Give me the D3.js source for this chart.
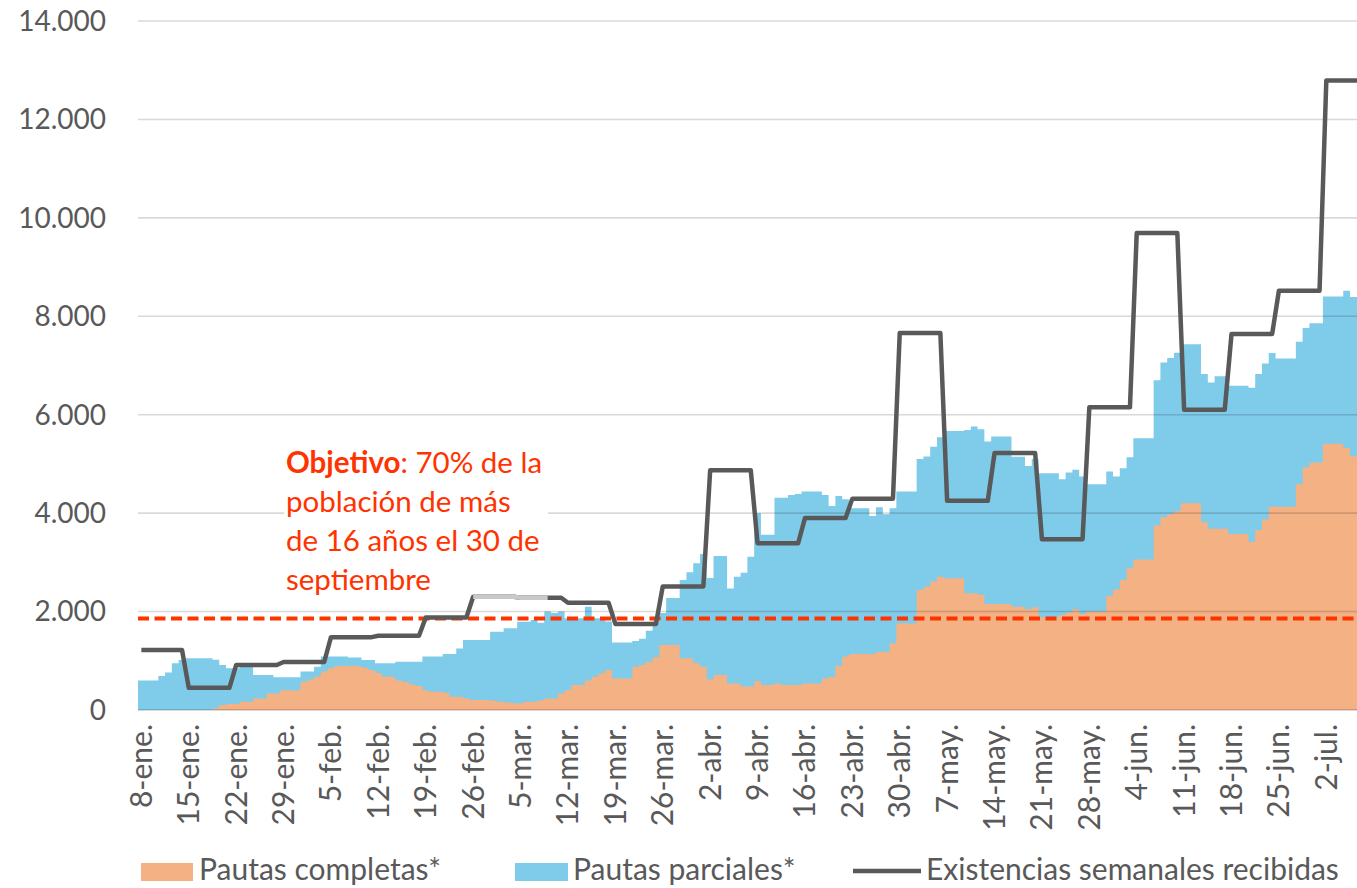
<!DOCTYPE html>
<html><head><meta charset="utf-8">
<script src="https://cdn.jsdelivr.net/npm/d3@7"></script>
<style>
html,body{margin:0;padding:0;background:#fff;}
svg{display:block;font-family:Lato,"Open Sans",sans-serif;}
</style></head><body>
<svg id="chart" width="1357" height="888"></svg>
<script>
// ---------- DATA ----------
// daily categories: 8-ene (index 0) ... 7-jul (index 180)
const days = d3.range(181);
const tickLabels = ["8-ene.","15-ene.","22-ene.","29-ene.","5-feb.","12-feb.","19-feb.","26-feb.",
  "5-mar.","12-mar.","19-mar.","26-mar.","2-abr.","9-abr.","16-abr.","23-abr.","30-abr.",
  "7-may.","14-may.","21-may.","28-may.","4-jun.","11-jun.","18-jun.","25-jun.","2-jul."];
const completas = [
  0,0,0,0,0,0,0,0,0,0,
  0,30,100,120,120,170,170,235,235,335,
  335,400,400,400,575,620,675,780,850,895,
  895,895,895,860,815,750,675,675,600,575,
  520,490,400,370,370,350,270,270,240,205,
  205,205,190,170,160,135,135,170,170,200,
  235,235,335,405,510,510,600,675,745,815,
  640,640,640,880,915,980,1070,1320,1320,1320,
  1050,1050,950,880,620,710,710,540,540,475,
  475,590,510,510,540,510,510,510,540,540,
  540,640,675,900,1085,1140,1140,1140,1140,1185,
  1185,1355,1760,1760,1760,2440,2505,2610,2710,2675,
  2675,2675,2370,2370,2340,2155,2155,2155,2155,2100,
  2100,2045,2090,1885,1885,1885,1930,1980,2045,1950,
  2000,2000,2000,2315,2450,2640,2880,3060,3060,3060,
  3750,3915,3975,4040,4200,4200,4200,3815,3685,3685,
  3685,3575,3575,3575,3420,3660,3870,4130,4130,4130,
  4130,4585,4935,5030,5030,5410,5410,5410,5325,5155,
  5155];
const parciales = [
  600,600,600,690,760,950,1015,1050,1050,1050,
  1050,990,815,730,730,710,710,475,475,375,
  330,265,265,265,205,160,205,305,235,190,
  190,170,170,155,200,200,275,275,380,405,
  460,490,685,715,715,790,870,980,1180,1215,
  1215,1215,1400,1420,1500,1525,1660,1625,1660,1575,
  1765,1735,1665,1460,1355,1355,1500,1190,1120,985,
  730,730,730,520,535,630,730,650,955,955,
  1590,1750,2030,2290,2060,2420,2420,1930,2170,2315,
  2640,3410,3050,3050,3775,3805,3860,3880,3900,3900,
  3900,3730,3470,3450,3195,2960,2960,2960,2800,2935,
  2795,2745,2680,2680,2680,2660,2645,2740,2830,2995,
  2995,2995,3320,3390,3365,3300,3400,3400,3400,3045,
  3045,2915,3010,2925,2925,2925,2760,2845,2835,2795,
  2585,2585,2585,2530,2295,2270,2255,2460,2460,2460,
  2950,3145,3175,3220,3230,3230,3230,3010,2970,3095,
  3095,3015,3015,3015,3130,3165,3170,3125,3010,3010,
  3010,2900,2825,2830,2830,2990,2990,2990,3195,3235,
  3235];
// weekly deliveries, one value per week starting at each tick label
const existenciasSemanales = [1220,450,915,975,1480,1510,1880,2300,2280,2180,1750,2510,
  4870,3390,3900,4295,7660,4250,5220,3470,6150,9690,6100,7640,8520,12790];
const estimadoDesde = 49, estimadoHasta = 60; // day indices drawn in light grey
const objetivo = 1860;
const yTicks = [0,2000,4000,6000,8000,10000,12000,14000];
const legendLabels = ["Pautas completas*","Pautas parciales*","Existencias semanales recibidas"];
const annotationRest = [": 70% de la","población de más","de 16 años el 30 de","septiembre"];

// ---------- CHART ----------
const W = 1357, H = 888;
const svg = d3.select("#chart");
svg.append("rect").attr("width",W).attr("height",H).attr("fill","#fff");

const x = d3.scaleBand().domain(days).range([138, 138 + days.length*6.771]).padding(0);
const y = d3.scaleLinear().domain([0,14000]).range([710,21]);
const bw = x.bandwidth();
const cx = i => x(i) + bw/2;

const cOrange = "#F4B183", cBlue = "#7FCBEA", cLine = "#595959", cRed = "#FF3300", cText = "#595959";

const rows = days.map(i => ({day:i, completas:completas[i], parciales:parciales[i]}));
const stacked = d3.stack().keys(["completas","parciales"])(rows);

const area = d3.area().curve(d3.curveStepAfter).x(d=>d.x).y0(y(0)).y1(d=>y(d.v));
function stepPts(s){
  const pts = s.map(d => ({x:x(d.data.day), v:d[1]}));
  const last = s[s.length-1];
  pts.push({x:x(last.data.day)+bw, v:last[1]});
  return pts;
}
const gArea = svg.append("g");
gArea.append("path").attr("d", area(stepPts(stacked[1]))).attr("fill", cBlue);
gArea.append("path").attr("d", area(stepPts(stacked[0]))).attr("fill", cOrange);

// gridlines (drawn over areas, translucent)
svg.append("g").selectAll("line").data(yTicks).join("line")
  .attr("x1",138).attr("x2",W).attr("y1",d=>y(d)).attr("y2",d=>y(d))
  .attr("stroke","rgba(0,0,0,0.15)").attr("stroke-width",d=>d===0?2:1.6);

// y axis labels
const fmt = d3.formatLocale({decimal:",", thousands:".", grouping:[3], currency:["","€"]}).format(",d");
svg.append("g").selectAll("text").data(yTicks).join("text")
  .attr("x",106).attr("y",d=>y(d)).attr("dy","0.35em").attr("text-anchor","end")
  .attr("font-size",28).attr("fill",cText).text(d=>fmt(d));

// x axis labels
svg.append("g").selectAll("text").data(tickLabels).join("text")
  .attr("transform",(d,k)=>`translate(${cx(k*7)},724) rotate(-90)`)
  .attr("dy","0.35em").attr("text-anchor","end")
  .attr("font-size",30).attr("fill",cText).text(d=>d);

// objective dashed line
svg.append("line").attr("x1",138).attr("x2",W).attr("y1",y(objetivo)).attr("y2",y(objetivo))
  .attr("stroke",cRed).attr("stroke-width",4).attr("stroke-dasharray","11,5.5");

// weekly deliveries line
const linePts = [];
existenciasSemanales.forEach((v,k) => {
  const a = k*7, b = Math.min(k*7+6, days.length-1);
  linePts.push([a,v]); if (b>a) linePts.push([b,v]);
});
const line = d3.line().x(d=>cx(d[0])).y(d=>y(d[1]));
svg.append("path").attr("d",line(linePts)).attr("fill","none")
  .attr("stroke",cLine).attr("stroke-width",4.5).attr("stroke-linejoin","round");
const wk = i => existenciasSemanales[Math.floor(i/7)];
const grey = [];
for (const i of [estimadoDesde, 55, 56, estimadoHasta]) grey.push([i, wk(i)]);
svg.append("path").attr("d",line(grey)).attr("fill","none")
  .attr("stroke","#C9C9C9").attr("stroke-width",4.5).attr("stroke-linejoin","round");

// annotation
svg.append("rect").attr("x",284).attr("y",447).attr("width",264).attr("height",146).attr("fill","#fff");
const ann = svg.append("text").attr("font-size",29.5).attr("fill",cRed);
const t0 = ann.append("tspan").attr("x",286).attr("y",473);
t0.append("tspan").attr("font-weight","bold").text("Objetivo");
t0.append("tspan").text(annotationRest[0]);
annotationRest.slice(1).forEach((s,k)=>{
  ann.append("tspan").attr("x",286).attr("y",473+39*(k+1)).text(s);
});

// legend
const lg = svg.append("g").attr("font-size",30).attr("fill",cText);
lg.append("rect").attr("x",141).attr("y",863).attr("width",52).attr("height",18).attr("fill",cOrange);
lg.append("text").attr("x",199).attr("y",880).text(legendLabels[0]);
lg.append("rect").attr("x",515).attr("y",863).attr("width",53).attr("height",18).attr("fill",cBlue);
lg.append("text").attr("x",573).attr("y",880).text(legendLabels[1]);
lg.append("line").attr("x1",853).attr("x2",921).attr("y1",871).attr("y2",871)
  .attr("stroke",cLine).attr("stroke-width",4.5);
lg.append("text").attr("x",926).attr("y",880).text(legendLabels[2]);
</script>
</body></html>
